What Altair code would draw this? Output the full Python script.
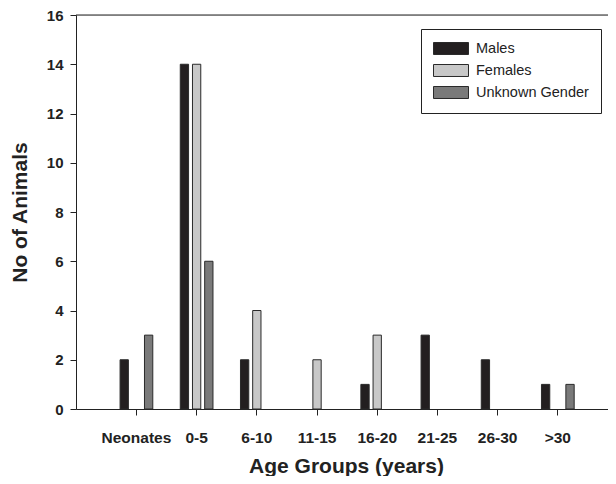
import altair as alt
import pandas as pd

categories = ["Neonates", "0-5", "6-10", "11-15", "16-20", "21-25", "26-30", ">30"]
series = ["Males", "Females", "Unknown Gender"]
males = [2, 14, 2, 0, 1, 3, 2, 1]
females = [0, 14, 4, 2, 3, 0, 0, 0]
unknown = [3, 6, 0, 0, 0, 0, 0, 1]
colors = ["#231f20", "#c8c8c8", "#7a7a7a"]
y_ticks = [0, 2, 4, 6, 8, 10, 12, 14, 16]

rows = []
for name, vals in zip(series, [males, females, unknown]):
    for cat, v in zip(categories, vals):
        if v > 0:
            rows.append({"Age": cat, "Group": name, "Count": v})
df = pd.DataFrame(rows)

FONT = "Liberation Sans"

bars = alt.Chart(df).mark_bar(stroke="#2a2a2a", strokeWidth=1).encode(
    x=alt.X(
        "Age:N",
        sort=categories,
        scale=alt.Scale(domain=categories, paddingInner=0.254, paddingOuter=0.5457, align=0.578),
        axis=alt.Axis(
            title="Age Groups (years)",
            labelAngle=0,
            labelFont=FONT, labelFontSize=15.5, labelFontWeight="bold", labelColor="#222",
            labelBaseline="alphabetic", labelPadding=27,
            tickSize=6, tickColor="#222", domainColor="#222", bandPosition=0.5,
            titleFont=FONT, titleFontSize=21, titleFontWeight="bold", titleColor="#222",
            titleBaseline="alphabetic", titleY=63, titleX=270,
        ),
    ),
    xOffset=alt.XOffset(
        "Group:N",
        sort=series,
        scale=alt.Scale(domain=series, paddingInner=0.32, paddingOuter=0.5),
    ),
    y=alt.Y(
        "Count:Q",
        scale=alt.Scale(domain=[0, 16], nice=False),
        axis=alt.Axis(
            title="No of Animals",
            values=y_ticks, grid=False,
            labelFont=FONT, labelFontSize=15, labelFontWeight="bold", labelColor="#222",
            labelPadding=7, tickSize=6, tickColor="#222", domainColor="#222",
            titleFont=FONT, titleFontSize=21, titleFontWeight="bold", titleColor="#222",
            titleAngle=270, titleBaseline="alphabetic", titleX=-50,
        ),
    ),
    color=alt.Color(
        "Group:N",
        sort=series,
        scale=alt.Scale(domain=series, range=colors),
        legend=alt.Legend(
            title=None,
            orient="none", legendX=345, legendY=14,
            direction="vertical",
            symbolType="M-1,-0.857H4V0.857H-1Z",
            symbolSize=196, symbolStrokeColor="#2a2a2a", symbolStrokeWidth=1,
            labelFont=FONT, labelFontSize=14.5, labelColor="#222", labelOffset=28,
            rowPadding=5, padding=12,
            strokeColor="#222", fillColor="white",
        ),
    ),
)

top_line = alt.Chart(pd.DataFrame({"v": [16]})).mark_rule(color="#222", strokeWidth=1).encode(
    y=alt.Y("v:Q")
)

chart = alt.layer(bars, top_line).properties(
    width=532,
    height=394,
    autosize=alt.AutoSizeParams(type="none"),
    padding={"left": 68, "top": 7, "right": 0, "bottom": 67},
).configure_view(stroke=None).configure(background="white")

chart.save("out.html", embed_options={"renderer": "svg", "actions": False})
